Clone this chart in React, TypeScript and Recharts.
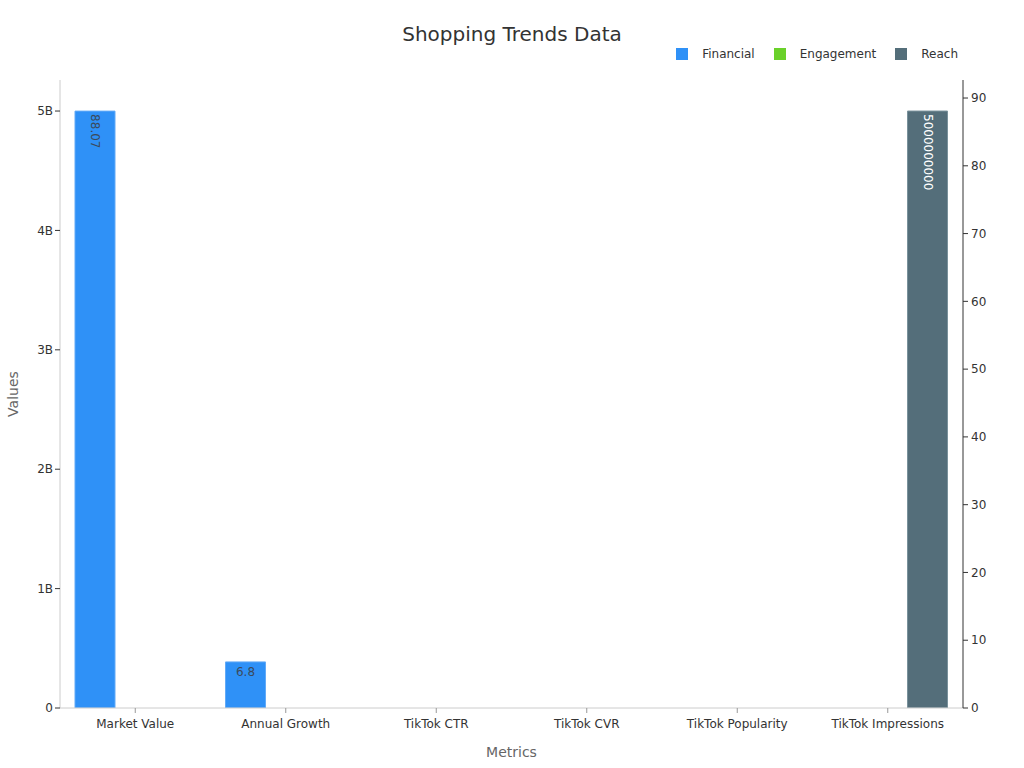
import React from 'react';
import { BarChart, Bar, XAxis, YAxis, LabelList } from 'recharts';

const categories = ['Market Value', 'Annual Growth', 'TikTok CTR', 'TikTok CVR', 'TikTok Popularity', 'TikTok Impressions'];
const financial: (number | null)[] = [88.07, 6.8, null, null, null, null];
const engagement: (number | null)[] = [null, null, null, null, null, null];
const reach: (number | null)[] = [null, null, null, null, null, 5000000000];
const leftTicks = [0, 1e9, 2e9, 3e9, 4e9, 5e9];
const rightTicks = [0, 10, 20, 30, 40, 50, 60, 70, 80, 90];

const seriesMeta = [
  { key: 'Financial', color: '#2f91f7' },
  { key: 'Engagement', color: '#6ad12a' },
  { key: 'Reach', color: '#546e7a' },
];

const data = categories.map((c, i) => ({
  name: c,
  Financial: financial[i],
  Engagement: engagement[i],
  Reach: reach[i],
}));

const FONT = '"DejaVu Sans", sans-serif';

const makeLabel = (color: string) => (props: any) => {
  const { x, y, width, height, value } = props;
  if (value == null) return null;
  const cx = x + width / 2;
  if (height > 60) {
    return (
      <text
        x={cx}
        y={y + 3}
        transform={`rotate(90 ${cx} ${y + 3})`}
        textAnchor="start"
        dominantBaseline="central"
        fontSize={12}
        fontFamily={FONT}
        fill={color}
      >
        {String(value)}
      </text>
    );
  }
  return (
    <text x={cx} y={y + 10} textAnchor="middle" dominantBaseline="central" fontSize={12} fontFamily={FONT} fill={color}>
      {String(value)}
    </text>
  );
};

const ValuesLabel = (props: any) => {
  const vb = props.viewBox || { x: 0, y: 80, width: 60, height: 628 };
  const cy = vb.y + vb.height / 2;
  const cx = 13;
  return (
    <text
      x={cx}
      y={cy}
      transform={`rotate(-90 ${cx} ${cy})`}
      textAnchor="middle"
      dominantBaseline="central"
      fontSize={14}
      fontFamily={FONT}
      fill="#666"
    >
      Values
    </text>
  );
};

const fmtLeft = (v: number) => (v === 0 ? '0' : `${v / 1e9}B`);

export default function App() {
  return (
    <div style={{ position: 'absolute', left: 0, top: 0, width: 1024, height: 768, background: '#fff' }}>
      <div
        style={{
          position: 'absolute',
          top: 21,
          left: 0,
          width: 1024,
          textAlign: 'center',
          fontFamily: FONT,
          fontSize: 20,
          color: '#333',
          lineHeight: '26px',
        }}
      >
        Shopping Trends Data
      </div>
      <div
        style={{
          position: 'absolute',
          top: 47,
          right: 66,
          display: 'flex',
          alignItems: 'center',
          fontFamily: FONT,
          fontSize: 12,
          color: '#333',
          lineHeight: '14px',
        }}
      >
        {seriesMeta.map((s, i) => (
          <div key={s.key} style={{ display: 'flex', alignItems: 'center', marginLeft: i === 0 ? 0 : 19 }}>
            <span style={{ display: 'inline-block', width: 12, height: 12, background: s.color, marginRight: 14 }} />
            <span>{s.key}</span>
          </div>
        ))}
      </div>
      <BarChart
        width={1024}
        height={768}
        data={data}
        margin={{ top: 80, right: 0, left: 0, bottom: 0 }}
        barGap={0}
        barSize={40}
      >
        <XAxis
          dataKey="name"
          height={60}
          tick={{ fontSize: 12, fill: '#333', fontFamily: FONT }}
          axisLine={{ stroke: '#ccc' }}
          tickLine={{ stroke: '#999' }}
          tickSize={5}
          tickMargin={6}
          label={{ value: 'Metrics', position: 'insideBottom', offset: 11, fontSize: 14, fill: '#666', fontFamily: FONT }}
        />
        <YAxis
          yAxisId="left"
          orientation="left"
          width={60}
          domain={[0, 5.26e9]}
          ticks={leftTicks}
          tickFormatter={fmtLeft}
          tick={{ fontSize: 12, fill: '#333', fontFamily: FONT }}
          axisLine={{ stroke: '#ccc' }}
          tickLine={{ stroke: '#333' }}
          tickSize={5}
          tickMargin={2}
          allowDataOverflow
          label={{ value: 'Values', content: ValuesLabel }}
        />
        <YAxis
          yAxisId="right"
          orientation="right"
          width={61}
          domain={[0, 92.66]}
          ticks={rightTicks}
          tick={{ fontSize: 12, fill: '#333', fontFamily: FONT }}
          axisLine={{ stroke: '#333' }}
          tickLine={{ stroke: '#333' }}
          tickSize={5}
          tickMargin={3}
          allowDataOverflow
        />
        <Bar dataKey="Financial" yAxisId="right" fill="#2f91f7" stroke="#62aaf7" strokeWidth={1} isAnimationActive={false}>
          <LabelList dataKey="Financial" content={makeLabel('#3b4a5c')} />
        </Bar>
        <Bar dataKey="Engagement" yAxisId="right" fill="#6ad12a" stroke="#8fdc5f" strokeWidth={1} isAnimationActive={false} />
        <Bar dataKey="Reach" yAxisId="left" fill="#546e7a" stroke="#7a929c" strokeWidth={1} isAnimationActive={false}>
          <LabelList dataKey="Reach" content={makeLabel('#ffffff')} />
        </Bar>
      </BarChart>
    </div>
  );
}
